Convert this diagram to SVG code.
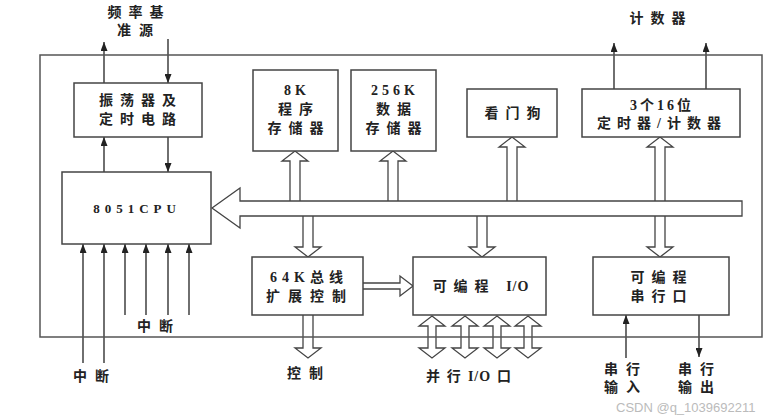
<svg xmlns="http://www.w3.org/2000/svg" width="779" height="415" viewBox="0 0 779 415">
<style>
.box{fill:#fff;stroke:#444;stroke-width:1.5}
.frame{fill:none;stroke:#555;stroke-width:1.5}
.ln{fill:none;stroke:#333;stroke-width:1.4}
.ho{fill:#fff;stroke:#444;stroke-width:1.3;stroke-linejoin:miter}
.t{font-family:"Liberation Serif","Noto Sans CJK SC",serif;font-weight:bold;font-size:14px;fill:#222;text-anchor:middle;letter-spacing:7px}
.t2{letter-spacing:8px}
.cpu{letter-spacing:5px;font-size:13px}
.wm{font-family:"Liberation Sans",sans-serif;font-size:13px;fill:#bbb}
</style>
<defs>
<marker id="ah" markerUnits="userSpaceOnUse" markerWidth="9" markerHeight="7" viewBox="0 0 9 7" refX="9" refY="3.5" orient="auto">
<path d="M0,0 L9,3.5 L0,7 z" fill="#222"/>
</marker>
</defs>
<rect width="779" height="415" fill="#fff"/>

<g id="connectors">
<path class="ho" d="M290,201 V161 H282 L295,151 L308,161 H300 V201"/>
<path class="ho" d="M388,201 V161 H380 L393,151 L406,161 H398 V201"/>
<path class="ho" d="M507,201 V147 H499 L512,137 L525,147 H517 V201"/>
<path class="ho" d="M655,201 V147 H647 L660,137 L673,147 H665 V201"/>
<path class="ho" d="M303,216 V247 H295 L308,257 L321,247 H313 V216"/>
<path class="ho" d="M477,216 V247 H469 L482,257 L495,247 H487 V216"/>
<path class="ho" d="M655,216 V247 H647 L660,257 L673,247 H665 V216"/>
<path class="ho" d="M303,315 V348 H295 L308,358 L321,348 H313 V315"/>
<path class="ho" d="M363,283 H400 V276 L413,286 L400,296 V289 H363"/>
<path class="ho" d="M432,316 L445,326 H436 V348 H445 L432,358 L419,348 H428 V326 H419 Z"/>
<path class="ho" d="M465,316 L478,326 H469 V348 H478 L465,358 L452,348 H461 V326 H452 Z"/>
<path class="ho" d="M497,316 L510,326 H501 V348 H510 L497,358 L484,348 H493 V326 H484 Z"/>
<path class="ho" d="M528,316 L541,326 H532 V348 H541 L528,358 L515,348 H524 V326 H515 Z"/>
<path class="ho" d="M212,208 L240,188 V201 H742 V216 H240 V228 Z"/>
<line class="ln" x1="104" y1="83" x2="104" y2="42" marker-end="url(#ah)"/>
<line class="ln" x1="168" y1="39" x2="168" y2="83" marker-end="url(#ah)"/>
<line class="ln" x1="104" y1="172" x2="104" y2="137" marker-end="url(#ah)"/>
<line class="ln" x1="168" y1="137" x2="168" y2="172" marker-end="url(#ah)"/>
<line class="ln" x1="614" y1="89" x2="614" y2="43" marker-end="url(#ah)"/>
<line class="ln" x1="706" y1="89" x2="706" y2="43" marker-end="url(#ah)"/>
<line class="ln" x1="83" y1="363" x2="83" y2="244" marker-end="url(#ah)"/>
<line class="ln" x1="104" y1="363" x2="104" y2="244" marker-end="url(#ah)"/>
<line class="ln" x1="125" y1="315" x2="125" y2="244" marker-end="url(#ah)"/>
<line class="ln" x1="146" y1="315" x2="146" y2="244" marker-end="url(#ah)"/>
<line class="ln" x1="168" y1="315" x2="168" y2="244" marker-end="url(#ah)"/>
<line class="ln" x1="189" y1="315" x2="189" y2="244" marker-end="url(#ah)"/>
<line class="ln" x1="626" y1="358" x2="626" y2="315" marker-end="url(#ah)"/>
<line class="ln" x1="699" y1="315" x2="699" y2="357" marker-end="url(#ah)"/>
</g>

<rect class="frame" x="40" y="55" width="722" height="282"/>

<g id="osc">
<rect class="box" x="74" y="83" width="128" height="54"/>
<text class="t" x="141" y="105">振荡器及</text>
<text class="t" x="141" y="124">定时电路</text>
</g>
<g id="cpu">
<rect class="box" x="62" y="172" width="149" height="72"/>
<text class="t cpu" x="137" y="213">8051CPU</text>
</g>
<g id="rom">
<rect class="box" x="253" y="70" width="85" height="81"/>
<text class="t" x="297" y="95" style="letter-spacing:4px">8K</text>
<text class="t" x="299" y="114">程序</text>
<text class="t" x="299" y="133">存储器</text>
</g>
<g id="ram">
<rect class="box" x="351" y="70" width="85" height="81"/>
<text class="t" x="395" y="95" style="letter-spacing:4px">256K</text>
<text class="t" x="397" y="114">数据</text>
<text class="t" x="397" y="133">存储器</text>
</g>
<g id="watchdog">
<rect class="box" x="467" y="89" width="90" height="48"/>
<text class="t" x="516" y="118">看门狗</text>
</g>
<g id="timer">
<rect class="box" x="582" y="89" width="158" height="48"/>
<text class="t" x="662" y="110" style="letter-spacing:3px">3个16位</text>
<text class="t" x="662" y="128" style="letter-spacing:6px">定时器/计数器</text>
</g>
<g id="busctl">
<rect class="box" x="252" y="257" width="111" height="58"/>
<text class="t" x="309" y="282" style="letter-spacing:5px">64K总线</text>
<text class="t" x="310" y="301" style="letter-spacing:8px">扩展控制</text>
</g>
<g id="pio">
<rect class="box" x="413" y="257" width="133" height="58"/>
<text class="t" x="481" y="291" style="letter-spacing:7px">可编程 <tspan style="letter-spacing:1px">I/O</tspan></text>
</g>
<g id="serial">
<rect class="box" x="593" y="257" width="136" height="58"/>
<text class="t" x="662" y="282">可编程</text>
<text class="t" x="662" y="301">串行口</text>
</g>

<g id="labels">
<text class="t" x="139" y="17">频率基</text>
<text class="t t2" x="139" y="35">准源</text>
<text class="t" x="661" y="23">计数器</text>
<text class="t t2" x="159" y="331">中断</text>
<text class="t t2" x="95" y="381">中断</text>
<text class="t t2" x="309" y="378">控制</text>
<text class="t" x="472" y="381" style="letter-spacing:7px">并行<tspan style="letter-spacing:1px">I/O</tspan><tspan dx="6">口</tspan></text>
<text class="t t2" x="626" y="374">串行</text>
<text class="t t2" x="626" y="392">输入</text>
<text class="t t2" x="700" y="374">串行</text>
<text class="t t2" x="700" y="392">输出</text>
</g>
<text class="wm" x="616" y="412">CSDN @q_1039692211</text>
</svg>
